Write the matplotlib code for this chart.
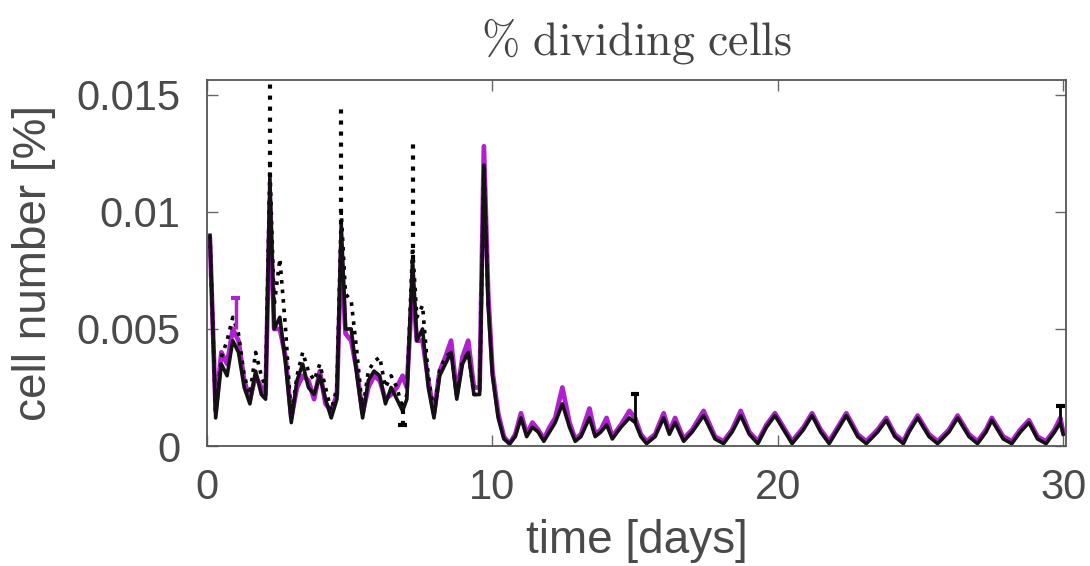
import matplotlib.pyplot as plt

plt.rcParams['mathtext.fontset'] = 'cm'

# time points [days]
t = [0.1, 0.3, 0.5, 0.7, 0.9, 1.1, 1.3, 1.5, 1.7, 1.9, 2.05, 2.2, 2.35, 2.55, 2.75, 2.95,
     3.15, 3.35, 3.55, 3.75, 3.95, 4.15, 4.35, 4.55, 4.7, 4.85, 5.05, 5.25, 5.45, 5.65,
     5.85, 6.05, 6.25, 6.45, 6.65, 6.85, 7.0, 7.2, 7.35, 7.55, 7.75, 7.95, 8.15, 8.35,
     8.55, 8.75, 8.95, 9.15, 9.35, 9.55, 9.7, 9.85,
     10.0, 10.2, 10.4, 10.6, 10.8, 11.0, 11.2, 11.4, 11.6, 11.8, 12.0, 12.2, 12.45, 12.7,
     12.9, 13.1, 13.4, 13.6, 13.8, 14.0, 14.2, 14.5, 14.8, 15.0, 15.2, 15.4, 15.7, 16.0,
     16.2, 16.4, 16.7, 17.0, 17.4, 17.8, 18.1, 18.4, 18.7, 19.0, 19.3, 19.6, 19.9, 20.2,
     20.5, 20.9, 21.2, 21.5, 21.8, 22.1, 22.4, 22.8, 23.1, 23.5, 23.8, 24.1, 24.4, 24.6,
     24.9, 25.3, 25.6, 26.0, 26.3, 26.7, 27.0, 27.3, 27.5, 27.9, 28.2, 28.5, 28.8, 29.1,
     29.4, 29.7, 29.9, 30.0]

black = [0.0090, 0.0012, 0.0035, 0.0030, 0.0045, 0.0040, 0.0025, 0.0018, 0.0032, 0.0022,
         0.0020, 0.0115, 0.0050, 0.0055, 0.0035, 0.0010, 0.0028, 0.0035, 0.0025, 0.0022,
         0.0030, 0.0020, 0.0012, 0.0020, 0.0095, 0.0050, 0.0050, 0.0030, 0.0012, 0.0028,
         0.0032, 0.0030, 0.0018, 0.0025, 0.0020, 0.0015, 0.0020, 0.0080, 0.0045, 0.0050,
         0.0025, 0.0012, 0.0030, 0.0035, 0.0040, 0.0020, 0.0035, 0.0040, 0.0022, 0.0022,
         0.0120, 0.0060,
         0.0030, 0.0012, 0.0003, 0.0001, 0.0004, 0.0012, 0.0004, 0.0008, 0.0006, 0.0002,
         0.0006, 0.0010, 0.0018, 0.0008, 0.0002, 0.0004, 0.0012, 0.0004, 0.0006, 0.0009,
         0.0003, 0.0008, 0.0012, 0.0010, 0.0004, 0.0001, 0.0004, 0.0012, 0.0005, 0.0010,
         0.0002, 0.0006, 0.0013, 0.0003, 0.0001, 0.0006, 0.0013, 0.0005, 0.0001, 0.0008,
         0.0013, 0.0007, 0.0001, 0.0007, 0.0013, 0.0006, 0.0001, 0.0007, 0.0013, 0.0004,
         0.0001, 0.0006, 0.0011, 0.0004, 0.0001, 0.0006, 0.0012, 0.0004, 0.0001, 0.0006,
         0.0012, 0.0004, 0.0001, 0.0006, 0.0011, 0.0003, 0.0001, 0.0006, 0.0010, 0.0003,
         0.0001, 0.0006, 0.0010, 0.0005]

purple = [0.0088, 0.0015, 0.0040, 0.0035, 0.0050, 0.0045, 0.0028, 0.0020, 0.0030, 0.0025,
          0.0022, 0.0105, 0.0050, 0.0050, 0.0038, 0.0012, 0.0025, 0.0030, 0.0028, 0.0020,
          0.0032, 0.0018, 0.0015, 0.0022, 0.0085, 0.0048, 0.0045, 0.0032, 0.0014, 0.0025,
          0.0030, 0.0028, 0.0020, 0.0022, 0.0025, 0.0030, 0.0025, 0.0070, 0.0045, 0.0045,
          0.0028, 0.0014, 0.0032, 0.0038, 0.0045, 0.0022, 0.0038, 0.0045, 0.0025, 0.0025,
          0.0128, 0.0065,
          0.0032, 0.0014, 0.0004, 0.0001, 0.0005, 0.0014, 0.0005, 0.0010, 0.0007, 0.0003,
          0.0008, 0.0012, 0.0025, 0.0010, 0.0003, 0.0005, 0.0016, 0.0005, 0.0007, 0.0012,
          0.0004, 0.0009, 0.0015, 0.0012, 0.0005, 0.0002, 0.0005, 0.0014, 0.0006, 0.0012,
          0.0003, 0.0007, 0.0015, 0.0004, 0.0002, 0.0007, 0.0015, 0.0006, 0.0002, 0.0009,
          0.0014, 0.0008, 0.0002, 0.0008, 0.0014, 0.0007, 0.0002, 0.0008, 0.0014, 0.0005,
          0.0002, 0.0007, 0.0012, 0.0005, 0.0002, 0.0007, 0.0013, 0.0005, 0.0002, 0.0007,
          0.0013, 0.0005, 0.0002, 0.0007, 0.0012, 0.0004, 0.0002, 0.0007, 0.0011, 0.0004,
          0.0002, 0.0007, 0.0012, 0.0006]

# dotted series, first 10 days only
t_dot = t[:52]
dotted = [0.0090, 0.0013, 0.0038, 0.0045, 0.0055, 0.0048, 0.0030, 0.0022, 0.0040, 0.0030,
          0.0025, 0.0120, 0.0060, 0.0080, 0.0050, 0.0012, 0.0030, 0.0040, 0.0032, 0.0028,
          0.0035, 0.0025, 0.0015, 0.0025, 0.0100, 0.0065, 0.0062, 0.0040, 0.0015, 0.0032,
          0.0036, 0.0038, 0.0025, 0.0030, 0.0025, 0.0016, 0.0022, 0.0085, 0.0055, 0.0060,
          0.0030, 0.0014, 0.0032, 0.0038, 0.0040, 0.0022, 0.0036, 0.0040, 0.0022, 0.0022,
          0.0120, 0.0060]

# error bars: (time, low, high)
dot_err_t = [2.2, 4.7, 6.85, 7.2]
dot_err_lo = [0.0115, 0.0095, 0.0009, 0.0080]
dot_err_hi = [0.0158, 0.0145, 0.0016, 0.0130]
purple_err_t = [1.0]
purple_err_hi = [0.0063]
black_err_t = [15.0, 29.9]
black_err_lo = [0.0010, 0.0010]
black_err_hi = [0.0022, 0.0017]

fig = plt.figure(figsize=(10.9, 5.66), dpi=100)
ax = fig.add_axes([0.19, 0.212, 0.788, 0.647])

ax.plot(t, purple, color='#b020d0', lw=3.4)
ax.plot(t_dot, dotted, color='black', lw=2.6, ls=':')
ax.plot(t, black, color='#151015', lw=2.6)

ax.vlines(dot_err_t, dot_err_lo, dot_err_hi, colors='black', lw=3, linestyles=':')
ax.hlines(dot_err_lo[2], 6.7, 7.0, colors='black', lw=3)
ax.hlines(purple_err_hi, 0.85, 1.15, colors='#b020d0', lw=3)
ax.vlines(purple_err_t, 0.0050, purple_err_hi, colors='#b020d0', lw=2.5)
ax.vlines(black_err_t, black_err_lo, black_err_hi, colors='black', lw=2)
ax.hlines(black_err_hi, [14.85, 29.75], [15.15, 30.05], colors='black', lw=3)

ax.set_xlim(0, 30.1)
ax.set_ylim(0, 0.01564)
ax.set_xticks([0, 10, 20, 30])
ax.set_yticks([0, 0.005, 0.01, 0.015])
ax.set_yticklabels(['0', '0.005', '0.01', '0.015'])
ax.tick_params(direction='in', length=8, width=1, colors='#666666',
               labelcolor='#4a4a4a', labelsize=30, top=True, right=True)
ax.tick_params(axis='x', pad=16)
ax.tick_params(axis='y', pad=19)
for s in ax.spines.values():
    s.set_color('#555555')
    s.set_linewidth(1.3)
for lab in ax.get_xticklabels() + ax.get_yticklabels():
    lab.set_family('Liberation Sans')

ax.set_xlabel('time [days]', fontsize=33, color='#4a4a4a', family='Liberation Sans', labelpad=8)
ax.set_ylabel('cell number [%]', fontsize=33, color='#4a4a4a', family='Liberation Sans', labelpad=15)
ax.set_title(r'$\%\ \mathrm{dividing\ cells}$', fontsize=33, color='#444444', pad=18)

fig.savefig('out.png', dpi=100)
